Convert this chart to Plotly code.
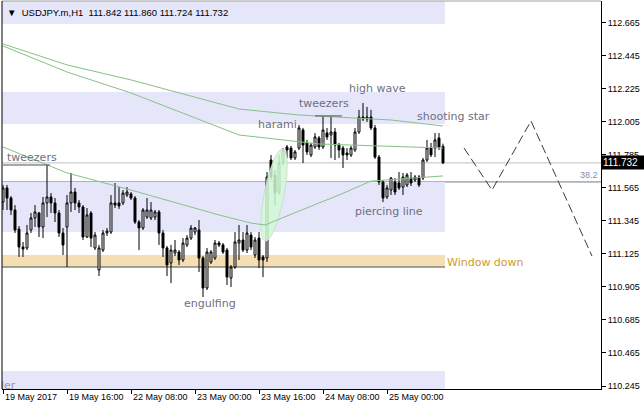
import numpy as np
import plotly.graph_objects as go

# ---------------- data ----------------
bars = list(range(111))
opens = [111.471,111.565,111.498,111.418,111.291,111.171,111.165,111.285,111.365,111.398,
         111.305,111.465,111.505,111.465,111.398,111.265,111.305,111.465,111.538,111.465,
         111.438,111.238,111.398,111.165,111.018,111.151,111.265,111.271,111.465,111.465,
         111.465,111.518,111.525,111.498,111.338,111.298,111.371,111.365,111.371,111.405,
         111.265,111.165,111.065,111.131,111.138,111.085,111.185,111.231,111.271,111.285,
         111.098,110.898,111.071,111.098,111.198,111.185,111.151,110.965,111.038,111.198,
         111.218,111.151,111.251,111.118,111.231,111.105,111.098,111.751,111.651,111.538,
         111.731,111.838,111.831,111.765,111.831,111.951,111.865,111.785,111.838,111.898,
         111.838,111.931,111.918,111.938,111.851,111.831,111.798,111.785,111.818,111.938,
         112.038,112.025,112.038,111.965,111.771,111.605,111.505,111.551,111.605,111.598,
         111.571,111.585,111.631,111.618,111.638,111.631,111.751,111.831,111.831,111.898,
         111.842]
highs = [111.585,111.585,111.511,111.451,111.311,111.205,111.318,111.398,111.451,111.405,
         111.505,111.718,111.531,111.498,111.418,111.298,111.518,111.665,111.565,111.485,
         111.451,111.431,111.411,111.271,111.185,111.285,111.298,111.518,111.598,111.571,
         111.551,111.571,111.538,111.511,111.351,111.431,111.498,111.471,111.418,111.418,
         111.285,111.178,111.185,111.218,111.151,111.231,111.251,111.318,111.305,111.351,
         111.111,111.165,111.151,111.218,111.211,111.198,111.165,111.051,111.271,111.318,
         111.271,111.318,111.271,111.238,111.271,111.118,111.671,111.785,111.685,111.785,
         111.831,111.851,111.845,111.818,111.985,111.965,111.885,111.865,111.931,111.911,
         112.045,111.965,112.045,111.965,111.865,111.845,111.831,111.845,111.965,112.085,
         112.131,112.105,112.085,111.985,111.785,111.618,111.585,111.638,111.631,111.671,
         111.665,111.665,111.671,111.651,111.651,111.765,111.885,111.865,111.931,111.931,
         111.860]
lows = [111.418,111.418,111.385,111.265,111.105,111.105,111.151,111.265,111.305,111.238,
        111.231,111.371,111.398,111.338,111.238,111.118,111.038,111.405,111.418,111.398,
        111.218,111.231,111.171,111.151,110.978,111.138,111.245,111.258,111.431,111.425,
        111.451,111.505,111.485,111.325,111.151,111.285,111.358,111.351,111.351,111.185,
        111.105,110.978,110.931,111.111,111.051,111.071,111.171,111.218,111.251,111.005,
        110.838,110.885,111.058,111.085,111.171,111.125,110.918,110.905,111.025,111.085,
        111.138,111.131,111.151,111.098,111.031,110.971,111.071,111.618,111.451,111.518,
        111.718,111.765,111.751,111.751,111.818,111.731,111.785,111.771,111.825,111.818,
        111.825,111.885,111.765,111.751,111.765,111.698,111.751,111.771,111.805,111.925,
        112.011,112.005,111.951,111.758,111.585,111.471,111.491,111.518,111.518,111.551,
        111.518,111.571,111.578,111.605,111.571,111.618,111.738,111.771,111.771,111.818,
        111.724]
closes = [111.565,111.498,111.418,111.285,111.171,111.158,111.265,111.365,111.405,111.305,
          111.465,111.505,111.465,111.398,111.265,111.185,111.465,111.538,111.465,111.438,
          111.238,111.385,111.231,111.251,111.165,111.265,111.278,111.465,111.451,111.445,
          111.531,111.538,111.498,111.338,111.298,111.418,111.418,111.418,111.405,111.265,
          111.165,111.051,111.151,111.151,111.085,111.198,111.231,111.298,111.298,111.098,
          110.898,111.138,111.138,111.198,111.185,111.138,110.971,111.038,111.205,111.218,
          111.151,111.265,111.171,111.218,111.085,111.085,111.638,111.638,111.531,111.731,
          111.818,111.818,111.765,111.805,111.965,111.851,111.805,111.851,111.905,111.838,
          111.951,111.905,111.938,111.851,111.818,111.785,111.785,111.831,111.938,112.038,
          112.025,112.038,111.965,111.771,111.605,111.498,111.565,111.631,111.538,111.565,
          111.638,111.651,111.598,111.638,111.585,111.751,111.831,111.785,111.885,111.838,
          111.732]

# moving averages (read at selected bars)
ma1_x = [0, 16, 32, 54, 59, 74, 97, 110]
ma1_y = [112.525, 112.385, 112.285, 112.131, 112.091, 112.051, 112.018, 111.978]
ma2_x = [0, 16, 32, 54, 59, 79, 110]
ma2_y = [112.511, 112.338, 112.198, 111.971, 111.918, 111.858, 111.831]
ma3_x = [0, 16, 32, 54, 62, 65.5, 74, 84, 92, 110]
ma3_y = [111.838, 111.665, 111.551, 111.385, 111.331, 111.318, 111.411, 111.518, 111.611, 111.645]

# projection path
proj_x = [115.25, 122.25, 132.0, 147.25]
proj_y = [111.831, 111.551, 112.011, 111.111]

# zones (top, bottom)
lav_zones = [(112.818, 112.658), (112.205, 111.991), (111.605, 111.271), (110.345, 110.200)]
window_zone = (111.118, 111.038)
zone_end = 110.5

fib_level = 111.605
last_price = 111.732
tweezer_lines = [((0, 11.75), 111.718), ((78, 84.75), 112.045)]

ytick_vals = [112.665, 112.445, 112.225, 112.005, 111.785, 111.565, 111.345, 111.125,
              110.905, 110.685, 110.465, 110.245]
ytick_text = ["112.665", "112.445", "112.225", "112.005", "111.785", "111.565", "111.345",
              "111.125", "110.905", "110.685", "110.465", "110.245"]
xtick_bars = [0, 16, 32, 48, 64, 80, 96]
xtick_text = ["19 May 2017", "19 May 16:00", "22 May 08:00", "23 May 00:00",
              "23 May 16:00", "24 May 08:00", "25 May 00:00"]

labels = [("tweezers", 0.5, 111.765), ("harami", 63.25, 111.991), ("tweezers", 73.5, 112.125),
          ("high wave", 86, 112.231), ("shooting star", 103, 112.038),
          ("piercing line", 87.5, 111.411), ("engulfing", 44.75, 110.798)]

# ---------------- figure ----------------
fig = go.Figure()
LBL = "#6e6e80"
MA_COL = "#86c286"

# ellipse highlight (harami)
cx, cy = 67.75, 111.518
a_px, b_px, tilt = 47, 10, np.deg2rad(11)
t = np.linspace(0, 2 * np.pi, 80)
u = b_px * np.cos(t) * np.cos(tilt) + a_px * np.sin(t) * np.sin(tilt)
v = -b_px * np.cos(t) * np.sin(tilt) + a_px * np.sin(t) * np.cos(tilt)
fig.add_trace(go.Scatter(x=cx + u / 4.0, y=cy + v / 150.0, fill="toself", mode="lines",
                         line=dict(color="rgba(205,218,205,0.9)", width=1),
                         fillcolor="rgba(208,248,212,0.85)", hoverinfo="skip", showlegend=False))

for mx, my in [(ma1_x, ma1_y), (ma2_x, ma2_y), (ma3_x, ma3_y)]:
    fig.add_trace(go.Scatter(x=mx, y=my, mode="lines", line=dict(color=MA_COL, width=1),
                             hoverinfo="skip", showlegend=False))

fig.add_trace(go.Candlestick(x=bars, open=opens, high=highs, low=lows, close=closes,
                             increasing=dict(line=dict(color="black", width=1), fillcolor="white"),
                             decreasing=dict(line=dict(color="black", width=1), fillcolor="black"),
                             whiskerwidth=0, hoverinfo="skip", showlegend=False))

fig.add_trace(go.Scatter(x=proj_x, y=proj_y, mode="lines",
                         line=dict(color="#3a3a3a", width=1, dash="9px,4px"),
                         hoverinfo="skip", showlegend=False))

# clipped "ler" text at bottom-left
fig.add_trace(go.Scatter(x=[-0.5], y=[110.245], mode="text", text=["ler"], textposition="middle right",
                         textfont=dict(family="DejaVu Sans", size=11, color="#9a9aa8"),
                         cliponaxis=True, hoverinfo="skip", showlegend=False))

shapes = []
for top, bot in lav_zones:
    shapes.append(dict(type="rect", xref="x", yref="y", x0=-1, x1=zone_end, y0=bot, y1=top,
                       fillcolor="#e6e6fa", line=dict(width=0), layer="below"))
shapes.append(dict(type="rect", xref="x", yref="y", x0=-1, x1=zone_end, y0=window_zone[1],
                   y1=window_zone[0], fillcolor="#f5deb3", line=dict(width=0), layer="below"))
shapes.append(dict(type="line", xref="x", yref="y", x0=-1, x1=zone_end, y0=window_zone[1],
                   y1=window_zone[1], line=dict(color="#3f5555", width=1), layer="below"))
shapes.append(dict(type="line", xref="paper", yref="y", x0=0, x1=1, y0=last_price, y1=last_price,
                   line=dict(color="#c0c0c0", width=1), layer="below"))
shapes.append(dict(type="line", xref="paper", yref="y", x0=0, x1=1, y0=fib_level, y1=fib_level,
                   line=dict(color="#6b7b8e", width=1), layer="below"))
for (xa, xb), yv in tweezer_lines:
    shapes.append(dict(type="line", xref="x", yref="y", x0=xa, x1=xb, y0=yv, y1=yv,
                       line=dict(color="#505050", width=1)))
# frame
shapes.append(dict(type="line", xref="paper", yref="paper", x0=0, x1=1, y0=1, y1=1,
                   line=dict(color="#a0a0a0", width=1)))
shapes.append(dict(type="line", xref="paper", yref="paper", x0=0, x1=0, y0=0, y1=1,
                   line=dict(color="black", width=1)))

annotations = []
for txt, bx, py in labels:
    annotations.append(dict(x=bx, y=py, xref="x", yref="y", text=txt, showarrow=False,
                            xanchor="left", yanchor="middle",
                            font=dict(family="DejaVu Sans", size=11, color=LBL)))
annotations.append(dict(x=110.5, y=111.065, xref="x", yref="y", text="Window down", showarrow=False,
                        xanchor="left", yanchor="middle",
                        font=dict(family="DejaVu Sans", size=11, color="#d09a28")))
annotations.append(dict(x=149.2, y=fib_level, xref="x", yref="y", text="38.2", showarrow=False,
                        xanchor="right", yanchor="bottom",
                        font=dict(family="Liberation Sans", size=9, color="#8090a8")))
annotations.append(dict(x=1, y=last_price, xref="paper", yref="y", text="111.732", showarrow=False,
                        xanchor="left", yanchor="middle", bgcolor="black", borderpad=1, xshift=0,
                        width=40, align="left",
                        font=dict(family="Liberation Sans", size=10, color="white")))
annotations.append(dict(x=0, y=1, xref="paper", yref="paper", xshift=3, yshift=-4,
                        text="\u25BC  USDJPY.m,H1  111.842 111.860 111.724 111.732", showarrow=False,
                        xanchor="left", yanchor="top",
                        font=dict(family="Liberation Sans", size=9.5, color="black")))
for b, txt in zip(xtick_bars, xtick_text):
    annotations.append(dict(x=b, y=0, xref="x", yref="paper", text=txt, showarrow=False,
                            xanchor="left", yanchor="top", yshift=-1,
                            font=dict(family="Liberation Sans", size=9, color="black")))

fig.update_layout(
    width=644, height=409,
    margin=dict(l=2, r=43, t=1, b=20),
    paper_bgcolor="white", plot_bgcolor="white",
    shapes=shapes, annotations=annotations,
    xaxis=dict(range=[-0.25, 149.5], showgrid=False, zeroline=False, showline=True,
               linecolor="black", linewidth=1, ticks="outside", ticklen=4, tickcolor="black",
               tickvals=xtick_bars, showticklabels=False, rangeslider=dict(visible=False),
               fixedrange=True),
    yaxis=dict(range=[110.225, 112.811], side="right", showgrid=False, zeroline=False,
               showline=True, linecolor="black", linewidth=1, ticks="outside", ticklen=4,
               tickcolor="black", tickvals=ytick_vals, ticktext=ytick_text,
               tickfont=dict(family="Liberation Sans", size=9, color="black"), fixedrange=True),
)

fig.write_html("out.html", config={"displayModeBar": False},
               post_script="document.body.style.margin='0';document.body.style.overflow='hidden';")
